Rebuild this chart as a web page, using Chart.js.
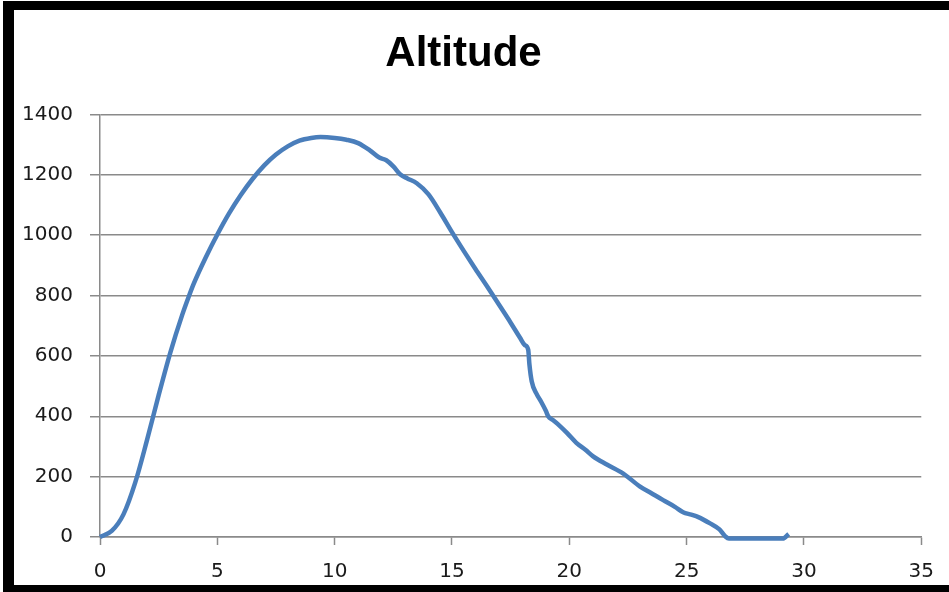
<!DOCTYPE html>
<html>
<head>
<meta charset="utf-8">
<title>Altitude</title>
<script src="https://cdn.jsdelivr.net/npm/chart.js@4.4.1/dist/chart.umd.min.js"></script>
<style>
  html, body { margin: 0; padding: 0; background: #ffffff; }
  #wrap { width: 949px; height: 592px; }
</style>
</head>
<body>
<div id="wrap"><canvas id="chart" width="949" height="592"></canvas></div>
<script>
// Flight time (x) and altitude (y) samples
const times = [
  0, 0.5, 1, 1.5, 2, 2.5, 3, 3.5, 3.8, 4, 4.5, 5, 5.5, 6, 6.5, 7, 7.5, 8, 8.5, 9, 9.4,
  10, 10.5, 11, 11.5, 11.9, 12.2, 12.5, 12.8, 13.1, 13.5, 14, 14.5, 15, 15.5, 16, 16.5,
  17, 17.5, 17.9, 18.1, 18.25, 18.3, 18.4, 18.6, 18.8, 19, 19.1, 19.3, 19.5, 19.9,
  20.3, 20.7, 21, 21.6, 22.3, 23, 23.5, 24, 24.5, 24.85, 25.2, 25.5, 26, 26.4, 26.65,
  26.8, 27.5, 28, 28.5, 29.1, 29.35
];
const altitudes = [
  0, 20, 75, 180, 320, 470, 612, 735, 800, 840, 925, 1002, 1072, 1133, 1186, 1231, 1267, 1294, 1313, 1322, 1325,
  1322, 1316, 1305, 1281, 1257, 1248, 1228, 1201, 1188, 1172, 1135, 1075, 1010, 948, 888, 830,
  770, 710, 660, 636, 620, 572, 515, 475, 448, 418, 400, 388, 375, 345,
  312, 288, 268, 240, 210, 168, 145, 122, 100, 82, 74, 66, 45, 25, 2,
  -5, -5, -5, -5, -5, 10
];
const chartTitle = 'Altitude';
const xTicks = { min: 0, max: 35, step: 5 };
const yTicks = { min: 0, max: 1400, step: 200 };

const points = times.map((t, i) => ({ x: t, y: altitudes[i] }));

const gray = '#8a8a8a';
const tickFont = { family: 'DejaVu Sans', size: 20 };

// White page with a heavy black frame around the chart
const framePlugin = {
  id: 'frame',
  beforeDraw(chart) {
    const ctx = chart.ctx;
    ctx.save();
    ctx.fillStyle = '#ffffff';
    ctx.fillRect(0, 0, chart.width, chart.height);
    ctx.restore();
  },
  afterDraw(chart) {
    const ctx = chart.ctx;
    ctx.save();
    ctx.fillStyle = '#000000';
    ctx.fillRect(3, 1, chart.width - 3, 9);      // top
    ctx.fillRect(3, 1, 11, chart.height - 1);    // left
    ctx.fillRect(3, chart.height - 7, chart.width - 3, 7); // bottom
    ctx.restore();
  }
};

new Chart(document.getElementById('chart'), {
  type: 'scatter',
  data: {
    datasets: [{
      data: points,
      showLine: true,
      borderColor: '#4a7ebb',
      backgroundColor: '#4a7ebb',
      borderWidth: 4.5,
      pointRadius: 0,
      cubicInterpolationMode: 'monotone',
      clip: false
    }]
  },
  options: {
    responsive: false,
    animation: false,
    layout: { padding: { left: 0, right: 22, top: 0, bottom: 8 } },
    plugins: {
      legend: { display: false },
      tooltip: { enabled: false },
      title: {
        display: true,
        text: chartTitle,
        color: '#000000',
        font: { family: 'Liberation Sans', size: 42, weight: 'bold' },
        padding: { top: 29, bottom: 35 }
      }
    },
    scales: {
      x: {
        type: 'linear',
        min: xTicks.min,
        max: xTicks.max,
        border: { display: true, color: gray, width: 1.5 },
        grid: { drawOnChartArea: false, drawTicks: true, tickLength: 8, tickColor: gray, tickWidth: 1.5 },
        ticks: { stepSize: xTicks.step, color: '#1a1a1a', font: tickFont, padding: 15, maxRotation: 0,
                 callback: v => String(v) },
        afterFit(scale) { scale.height = 47; }
      },
      y: {
        type: 'linear',
        min: yTicks.min,
        max: yTicks.max,
        border: { display: true, color: gray, width: 1.5 },
        grid: { color: gray, lineWidth: 1.5, tickLength: 10, tickColor: gray },
        ticks: { stepSize: yTicks.step, color: '#1a1a1a', font: tickFont, padding: 17,
                 callback: v => String(v) },
        afterFit(scale) { scale.width = 100; }
      }
    }
  },
  plugins: [framePlugin]
});
</script>
</body>
</html>
